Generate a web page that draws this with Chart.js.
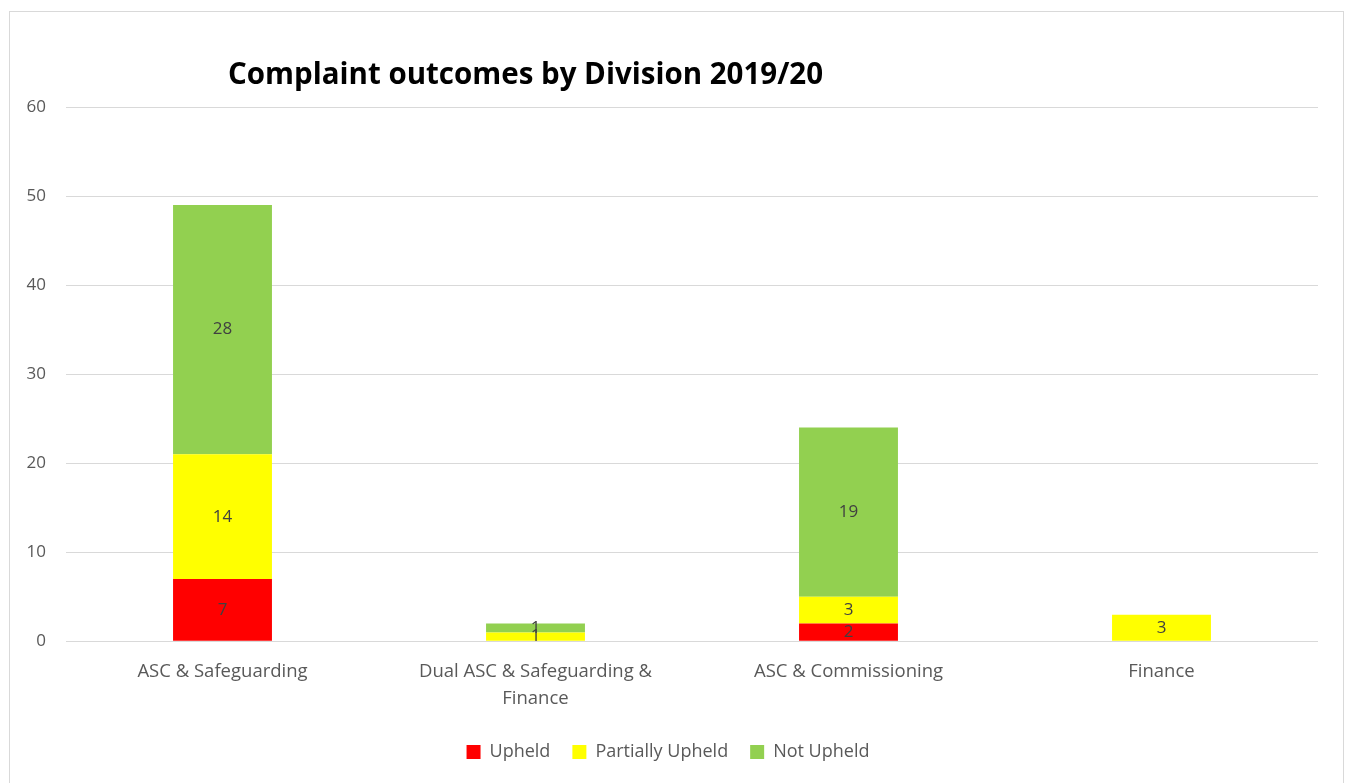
<!DOCTYPE html>
<html>
<head>
<meta charset="utf-8">
<title>Complaint outcomes by Division 2019/20</title>
<script src="https://cdn.jsdelivr.net/npm/chart.js@4"></script>
<style>
  html, body { margin: 0; padding: 0; background: #fff; }
  #frame { position: absolute; left: 9px; top: 11px; width: 1333px; height: 800px; border: 1px solid #d9d9d9; }
  #wrap { position: absolute; left: 0; top: 0; width: 1352px; height: 783px; }
</style>
</head>
<body>
<div id="frame"></div>
<div id="wrap"><canvas id="myChart"></canvas></div>
<script>
var divisions = ["ASC & Safeguarding", ["Dual ASC & Safeguarding &", "Finance"], "ASC & Commissioning", "Finance"];
var upheld = [7, 0, 2, 0];
var partiallyUpheld = [14, 1, 3, 3];
var notUpheld = [28, 1, 19, 0];
var yTicks = [0, 10, 20, 30, 40, 50, 60];

var textFont = "'Open Sans', 'Liberation Sans', sans-serif";

// values written in the middle of each stacked piece
var segmentLabels = {
    id: 'segmentLabels',
    afterDatasetsDraw: function (chart) {
        var ctx = chart.ctx;
        ctx.save();
        ctx.font = "17px " + textFont;
        ctx.fillStyle = "#404040";
        ctx.textAlign = "center";
        ctx.textBaseline = "middle";
        chart.data.datasets.forEach(function (ds, i) {
            var meta = chart.getDatasetMeta(i);
            meta.data.forEach(function (bar, j) {
                var v = ds.data[j];
                if (!v) return;
                ctx.fillText(v, bar.x, (bar.y + bar.base) / 2);
            });
        });
        ctx.restore();
    }
};

var chartTitle = {
    id: 'chartTitle',
    afterDraw: function (chart) {
        var ctx = chart.ctx;
        ctx.save();
        ctx.font = "bold 29.5px " + textFont;
        ctx.fillStyle = "#000";
        ctx.textBaseline = "middle";
        ctx.fillText("Complaint outcomes by Division 2019/20", 228, 76);
        ctx.restore();
    }
};

var ctx = document.getElementById("myChart").getContext('2d');

var myChart = new Chart(ctx, {
    type: 'bar',
    data: {
        labels: divisions,
        datasets: [{
            label: 'Upheld',
            data: upheld,
            backgroundColor: "#ff0000"
        }, {
            label: 'Partially Upheld',
            data: partiallyUpheld,
            backgroundColor: "#ffff00"
        }, {
            label: 'Not Upheld',
            data: notUpheld,
            backgroundColor: "#92d050"
        }]
    },
    options: {
        responsive: true,
        maintainAspectRatio: false,
        animation: false,
        categoryPercentage: 1,
        barPercentage: 0.316,
        layout: { padding: { left: 18, right: 34, top: 107, bottom: 12 } },
        scales: {
            x: {
                stacked: true,
                grid: { display: false },
                border: { display: false },
                ticks: { color: "#595959", font: { family: textFont, size: 18.5, lineHeight: 1.45 }, padding: 9, maxRotation: 0 }
            },
            y: {
                stacked: true,
                min: 0,
                max: 60,
                afterBuildTicks: function (axis) {
                    axis.ticks = yTicks.map(function (v) { return { value: v }; });
                },
                afterFit: function (axis) { axis.width = 48; },
                grid: { color: "#d9d9d9", lineWidth: 1, drawTicks: false },
                border: { display: false },
                ticks: { color: "#595959", font: { family: textFont, size: 17 }, padding: 20 }
            }
        },
        plugins: {
            legend: {
                position: 'bottom',
                labels: {
                    color: "#595959",
                    font: { family: textFont, size: 18 },
                    boxWidth: 14,
                    boxHeight: 14,
                    padding: 22
                }
            },
            tooltip: { enabled: false }
        }
    },
    plugins: [segmentLabels, chartTitle]
});
</script>
</body>
</html>
